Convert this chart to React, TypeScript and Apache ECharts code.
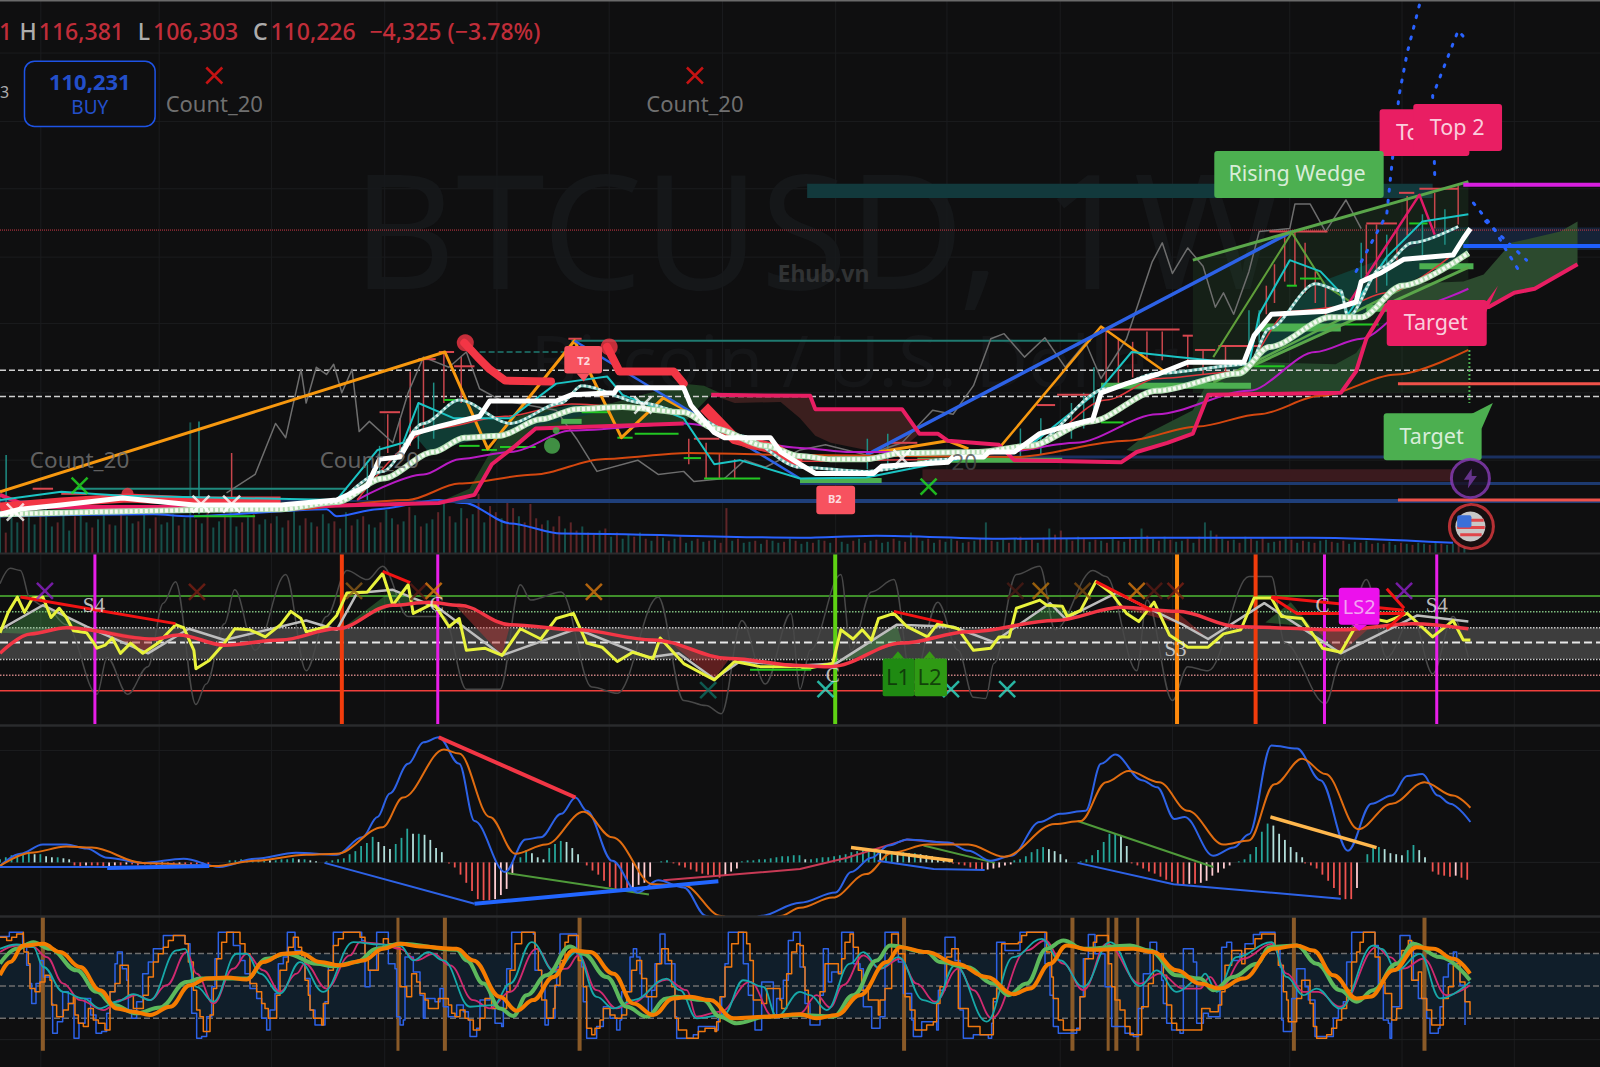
import React, { useEffect, useRef } from "react";
import * as echarts from "echarts";

type P = [number, number];

// ---------- shared ----------
const gridX = [40, 156, 266, 377, 487, 597, 708, 819, 928, 1039, 1149, 1264, 1374, 1484];
const gridYMain = [52, 119, 185, 252, 317, 385, 451];

// ---------- price pane ----------
const whiteStair: P[] = [[0,504],[20,499],[60,495],[120,488],[190,495],[275,495],[330,490],[360,476],[372,450],[392,448],[405,425],[430,418],[470,408],[480,393],[545,393],[560,387],[602,385],[605,380],[670,380],[677,397],[700,424],[710,429],[755,429],[765,443],[784,455],[799,464],[856,464],[864,457],[929,453],[934,448],[964,448],[969,443],[994,443],[1019,425],[1044,418],[1071,411],[1079,385],[1104,376],[1134,367],[1164,355],[1219,355],[1229,329],[1246,308],[1300,305],[1329,296],[1334,276],[1354,267],[1376,254],[1424,250],[1434,234],[1441,224]];
const slowMa: P[] = [[0,504],[275,499],[330,492],[375,469],[425,443],[455,429],[490,427],[530,411],[565,401],[610,399],[670,404],[700,420],[750,437],[784,447],[814,450],[849,450],[884,444],[959,443],[1009,437],[1069,413],[1134,383],[1214,366],[1244,340],[1304,311],[1334,311],[1374,280],[1439,248]];
const fastDots: P[] = [[335,490],[375,462],[415,415],[450,392],[500,415],[550,395],[570,378],[630,395],[670,404],[725,427],[784,458],[849,462],[929,450],[1009,437],[1084,381],[1134,366],[1224,357],[1244,322],[1289,278],[1314,285],[1321,311],[1354,262],[1384,238],[1429,222]];
const cyanLine: P[] = [[0,490],[60,482],[120,486],[330,490],[370,441],[395,434],[410,395],[445,410],[500,410],[545,376],[595,369],[610,387],[670,410],[700,455],[725,451],[784,469],[849,468],[929,452],[1009,437],[1079,381],[1109,345],[1154,350],[1224,357],[1234,308],[1264,255],[1294,266],[1314,287],[1321,308],[1359,252],[1394,217],[1439,210]];
const redThin: P[] = [[350,490],[425,420],[495,408],[560,396],[670,404],[740,440],[784,452],[930,450],[1009,440],[1084,392],[1134,371],[1214,364],[1264,305],[1314,301],[1359,287],[1424,249]];
const magentaMa: P[] = [[350,490],[415,465],[450,450],[500,443],[560,422],[670,415],[784,439],[834,443],[984,443],[1054,434],[1134,406],[1224,383],[1289,345],[1334,332],[1384,301],[1439,283]];
const orangeMa: P[] = [[0,505],[275,500],[400,490],[450,474],[525,465],[590,450],[675,444],[784,446],[994,448],[1104,432],[1174,418],[1234,406],[1294,388],[1369,367],[1439,343]];
const pinkBaseA: P[] = [[0,485],[30,497],[275,497],[430,493],[465,485],[482,455],[505,437],[525,420],[670,415]];
const pinkBaseB: P[] = [[697,387],[794,388],[799,401],[884,401],[901,425],[919,425],[929,432],[979,436],[994,451],[1099,453],[1114,443],[1144,434],[1169,425],[1184,387],[1314,385],[1329,364],[1339,332],[1359,299],[1459,301],[1484,287],[1504,283],[1546,259]];
const sarDotsA: P[] = [[455,336],[468,350],[480,362],[495,373],[540,374]];
const sarDotsB: P[] = [[595,340],[601,352],[607,364],[660,364],[670,376]];
const sarFlat: P[] = [[0,497],[60,492],[125,488],[190,491],[275,491]];
const sarFall: P[] = [[690,399],[720,430],[760,440],[784,455]];
const chikou: P[] = [[222,483],[250,465],[270,415],[280,429],[295,362],[300,395],[310,360],[320,367],[327,357],[335,385],[345,362],[352,423],[362,413],[385,434],[400,385],[415,350],[440,360],[457,345],[470,381],[490,392],[545,402],[565,430],[585,462],[625,451],[645,465],[670,462],[680,472],[710,469],[730,451],[750,458],[784,441],[809,436],[849,446],[884,434],[914,402],[934,406],[954,378],[971,332],[984,327],[1004,350],[1024,331],[1044,360],[1064,336],[1079,371],[1104,332],[1129,257],[1139,238],[1149,268],[1164,243],[1179,261],[1191,301],[1199,287],[1209,308],[1224,266],[1234,227],[1264,224],[1269,200],[1284,200],[1299,227],[1319,196],[1334,224]];
const volumeMa: P[] = [[0,506],[150,504],[185,506],[320,499],[330,506],[370,499],[430,490],[455,493],[500,513],[550,523],[784,527],[859,525],[984,528],[1134,527],[1284,527],[1424,532]];
const orangeTrend: P[] = [[0,482],[436,345],[478,440],[563,334],[609,429],[650,390],[672,402]];
const orangeMid: P[] = [[861,443],[929,432],[949,440]];
const orangeRise: P[] = [[981,437],[1079,320],[1144,366]];
const blueDown: P[] = [[563,334],[784,469]];
const blueUp: P[] = [[849,446],[1266,227]];
const wedgeTop: P[] = [[1169,255],[1439,178]];
const wedgeLow: P[] = [[1224,360],[1439,262]];
const wedgeLow2: P[] = [[1189,375],[1440,250]];
const oliveZig: P[] = [[1189,350],[1266,228],[1299,280],[1330,300]];
const pinkZig: P[] = [[1320,300],[1391,191],[1406,230]];
const dotA: P[] = [[1329,266],[1359,210],[1371,94],[1379,52],[1391,5]];
const dotB: P[] = [[1406,171],[1404,94],[1429,30],[1436,38]];
const dotC: P[] = [[1444,199],[1464,224],[1476,245],[1489,266]];
const dotD: P[] = [[1456,217],[1496,255]];
const cloudGreenRight: P[] = [[1329,280],[1434,276],[1454,269],[1481,238],[1529,227],[1546,217],[1546,259],[1504,283],[1484,287],[1459,301],[1400,310],[1350,300]];
const cloudGreenMid: P[] = [[1104,441],[1124,425],[1169,402],[1194,354],[1309,357],[1329,346],[1339,332],[1329,364],[1314,385],[1184,387],[1169,425],[1144,434],[1114,443]];
const cloudRed: P[] = [[697,387],[794,388],[799,401],[884,401],[901,425],[879,444],[849,441],[814,434],[799,427],[784,410],[765,394],[720,395]];
const cloudGreenLeft: P[] = [[435,490],[460,479],[480,444],[500,410],[540,400],[600,395],[670,376],[690,378],[705,385],[697,387],[670,415],[525,420],[505,437],[482,455],[465,485]];
const tealFillLeft: P[] = [[405,425],[450,392],[500,415],[560,396],[610,399],[470,430],[420,443]];
const tealFillRight: P[] = [[1084,381],[1134,366],[1224,357],[1244,322],[1289,278],[1439,222],[1439,248],[1374,280],[1334,311],[1214,366],[1134,383]];
const wedgeShade: P[] = [[1169,255],[1439,178],[1439,385],[1169,385]];
const greenSegs = [[190,250,506],[435,450,392],[450,470,437],[472,487,441],[490,525,438],[570,597,404],[605,620,429],[622,665,425],[670,687,449],[690,745,469],[1079,1101,414],[1184,1199,376],[1229,1259,359],[1261,1271,280],[1274,1294,273],[1314,1351,318],[1381,1399,219]];
const thickGreenSegs = [[1079,1226,378,6],[1391,1444,261,6],[1236,1314,321,8],[1339,1371,302,7],[784,864,471,5],[899,1041,451,5],[550,570,413,5]];
const redSegs = [[32,52,479],[60,85,484],[372,392,404],[410,427,352],[430,445,345],[445,465,359],[557,570,332],[680,705,430],[1244,1301,227],[1339,1369,219],[1371,1386,189],[1391,1429,185],[1079,1156,323],[1159,1169,329],[1036,1071,387],[1016,1034,397],[871,899,434],[1171,1191,343],[1194,1236,339]];
const redWicks = [[227,444,498],[402,364,437],[415,352,420],[435,345,395],[452,350,395],[380,406,444],[392,410,441],[675,430,455],[692,434,469],[705,445,469],[720,450,469],[1084,322,381],[1096,332,381],[1110,335,370],[1124,325,353],[1139,325,353],[1164,329,360],[1179,343,367],[1201,339,364],[1241,280,308],[1249,259,297],[1259,231,276],[1269,227,280],[1279,238,287],[1289,266,297],[1299,280,315],[1339,220,269],[1349,220,287],[1369,224,255],[1379,192,231],[1406,189,224],[1429,182,220]];
const tealWicks = [[195,413,504],[6,446,504],[372,437,465],[360,455,490],[410,395,440],[425,375,430],[1224,304,343],[1234,304,336],[1050,395,430],[1062,385,420],[1072,360,405],[1334,238,273],[1359,230,280],[1394,210,250],[1416,205,240],[850,430,460],[870,425,455],[1000,420,450],[1020,410,445]];
const volumeBars = [62,-20,45,30,-42,35,28,-38,50,26,-30,40,22,-36,48,30,-25,33,41,-28,27,-44,36,29,-31,40,24,-35,28,30,38,-27,34,128,-33,29,-40,25,31,-37,44,26,-30,35,-48,28,33,-29,36,25,-32,41,27,-34,30,-26,38,29,-31,24,40,-27,33,-36,28,25,-30,42,34,-28,31,-45,37,-26,29,33,-40,52,-36,30,44,-34,38,-58,30,-46,-40,34,-50,-44,36,-30,-48,-34,-28,32,-26,-36,24,-30,-22,26,-20,-18,22,-24,16,-20,14,18,-16,20,-14,12,-18,15,-12,14,-16,10,12,-14,11,-12,13,-10,-44,12,-14,10,11,-12,9,-13,12,10,-11,14,-12,9,11,-10,13,-12,10,-15,11,9,-12,14,-10,12,-13,10,11,-14,12,-11,20,-16,12,-14,10,-13,11,14,-12,10,-11,12,-14,30,-12,11,13,-10,14,-16,12,-13,10,-15,24,-18,-22,14,-12,16,-14,11,-13,12,-10,14,-12,11,-15,13,24,-17,14,-12,16,-13,11,12,-14,10,-16,30,22,-18,14,-12,13,-10,16,-14,12,-15,10,11,-12,14,-13,10,-12,11,-10,12,13,-11,10,-12,9,11,-10,12,-9,10,-9,11,8,-10,9,-8,10,9,-8,10,-9,8,9,-10,8];

const whiteX: P[] = [[15,502],[197,494],[227,494],[630,397],[884,449]];
const greenX: P[] = [[78,476],[910,477]];
const redTopX: P[] = [[210,74],[681,74]];

// ---------- RSI pane ----------
const rsiLines = [584, 599.5, 615, 629.5, 646, 661.5, 676.6];
const rsiYellow: P[] = [[0,620],[8,600],[17,585],[24,600],[32,586],[42,585],[50,605],[58,596],[65,605],[72,618],[85,620],[92,630],[95,635],[103,632],[110,625],[118,640],[128,630],[140,640],[155,630],[172,612],[180,615],[190,637],[192,655],[205,647],[220,630],[230,616],[245,617],[260,624],[275,612],[285,599],[295,606],[300,619],[320,614],[330,603],[340,581],[360,580],[375,562],[385,593],[400,573],[405,601],[425,591],[440,614],[450,606],[457,637],[475,635],[492,642],[510,616],[530,626],[545,606],[562,601],[575,630],[590,634],[605,648],[620,639],[640,645],[647,625],[670,650],[700,666],[720,648],[745,653],[784,653],[789,655],[816,650],[824,617],[836,626],[845,617],[854,627],[861,606],[876,601],[889,614],[909,624],[919,611],[939,616],[954,637],[971,635],[979,624],[989,624],[996,596],[1019,588],[1026,593],[1041,594],[1046,604],[1059,598],[1074,570],[1089,581],[1104,601],[1116,609],[1131,590],[1146,622],[1164,634],[1184,634],[1199,621],[1216,617],[1229,586],[1246,586],[1256,604],[1276,606],[1296,635],[1314,639],[1334,604],[1359,609],[1379,601],[1404,624],[1424,608],[1434,627],[1441,627]];
const rsiMa: P[] = [[0,640],[30,621],[65,615],[150,626],[175,622],[220,632],[275,627],[330,616],[385,593],[420,590],[450,593],[500,612],[565,617],[640,627],[715,645],[784,652],[814,653],[884,630],[949,619],[1034,608],[1099,595],[1154,599],[1214,614],[1314,617],[1384,611],[1439,616]];
const rsiSmooth: P[] = [[0,617],[42,593],[85,614],[145,640],[185,616],[220,627],[300,608],[330,617],[350,581],[385,578],[430,596],[492,642],[565,616],[635,644],[665,640],[700,665],[725,648],[784,652],[819,650],[879,612],[934,614],[974,629],[1029,591],[1044,606],[1094,581],[1159,612],[1184,626],[1239,591],[1314,640],[1389,603],[1439,609]];
const rsiGrey: P[] = [[0,572],[10,557],[20,559],[30,588],[45,595],[65,612],[95,680],[105,644],[125,680],[145,653],[160,591],[172,570],[192,690],[202,670],[220,611],[230,578],[250,637],[280,563],[300,657],[320,604],[340,559],[360,568],[375,555],[400,604],[435,604],[457,675],[490,675],[510,573],[520,588],[550,580],[580,673],[605,679],[645,585],[670,686],[692,691],[707,699],[727,608],[750,670],[775,601],[784,675],[794,637],[824,563],[834,637],[854,580],[876,568],[894,670],[919,590],[939,637],[954,683],[966,684],[974,650],[996,563],[1019,555],[1034,617],[1071,559],[1084,565],[1114,657],[1124,588],[1149,686],[1164,653],[1184,657],[1224,565],[1246,565],[1259,630],[1299,689],[1314,647],[1339,568],[1359,644],[1384,604],[1404,660],[1424,604],[1439,644]];
const rsiRedTrends: P[][] = [[[20,585],[172,611]],[[375,560],[402,571]],[[876,599],[924,610]],[[1074,570],[1129,598]],[[1246,585],[1376,598]],[[1246,585],[1271,601],[1376,601],[1359,616]],[[1359,577],[1376,596]]];
const rsiGreenFills: P[][] = [[[0,620],[42,593],[85,614],[65,615],[30,621]],[[335,616],[385,578],[420,590],[385,593]],[[819,650],[879,612],[884,630]],[[1000,612],[1029,591],[1060,604]],[[1240,610],[1265,590],[1285,614]]];
const rsiRedFills: P[][] = [[[85,614],[150,626],[145,640]],[[445,592],[500,612],[492,642]],[[1094,594],[1159,612],[1184,626],[1154,600]],[[1290,617],[1314,640],[1340,617]],[[660,632],[715,645],[700,665]]];
const rsiVerts: [number, string, number][] = [[93,"#e81ee8",3],[335,"#f23c0c",4],[429,"#e81ee8",3],[818.5,"#5fd214",4],[1153.5,"#ff8a0c",4],[1230.5,"#f23c0c",4],[1298,"#e81ee8",3],[1408,"#e81ee8",3]];
const rsiXs: [number, number, string][] = [[44,579,"#8f1fc9"],[193,580,"#7a1f14"],[347,579,"#8a5a18"],[410,580,"#5a1a14"],[425,579,"#e07a10"],[582,580,"#d8780e"],[694,676,"#0f6b60"],[809,675,"#2ee0c8"],[932,675,"#2ee0c8"],[987,675,"#2ee0c8"],[995,579,"#4a1a14"],[1020,579,"#b8720c"],[1061,579,"#7a4a10"],[1114,579,"#d8780e"],[1131,579,"#5a1a14"],[1152,579,"#7a1f14"],[1376,579,"#8f1fc9"]];

// ---------- MACD pane ----------
const macdBlue: P[] = [[0,848],[20,836],[42,827],[65,827],[85,831],[105,840],[140,845],[180,841],[215,849],[250,841],[290,835],[330,837],[355,820],[370,800],[382,777],[400,748],[415,727],[430,722],[450,748],[465,804],[495,854],[515,822],[530,820],[550,797],[564,781],[575,794],[600,843],[625,874],[645,862],[670,869],[692,897],[720,925],[745,897],[784,884],[819,874],[834,854],[854,840],[871,828],[889,822],[929,825],[949,833],[971,843],[991,838],[1019,805],[1039,797],[1064,794],[1079,748],[1093,739],[1119,764],[1134,771],[1151,802],[1161,800],[1189,838],[1209,830],[1224,817],[1246,730],[1271,733],[1294,764],[1321,833],[1344,787],[1364,779],[1379,760],[1394,758],[1409,779],[1421,787],[1441,805]];
const macdOrange: P[] = [[0,848],[30,835],[65,829],[90,830],[140,845],[210,848],[250,843],[300,837],[330,836],[375,810],[395,781],[435,734],[450,738],[480,800],[505,836],[535,827],[572,795],[600,820],[640,866],[670,867],[707,897],[735,915],[765,897],[784,889],[816,879],[849,856],[874,835],[909,827],[949,827],[984,839],[1034,807],[1059,804],[1084,766],[1106,755],[1136,766],[1164,794],[1199,827],[1224,823],[1249,768],[1276,743],[1299,758],[1331,812],[1364,787],[1396,766],[1424,779],[1441,791]];
const macdTrendsBlue: P[][] = [[[0,849],[205,849]],[[318,845],[465,885]],[[1056,845],[1150,866],[1314,880]],[[860,843],[915,851],[965,852]]];
const macdThickBlue: P[][] = [[[105,850],[205,848]],[[465,885],[704,863]]];
const macdRedTrends: P[][] = [[[430,722],[564,781]]];
const macdPinkThin: P[][] = [[[650,862],[784,851],[830,840],[889,822],[935,826]]];
const macdGreen: P[][] = [[[497,855],[636,876]],[[905,828],[975,845]],[[1056,804],[1189,849]]];
const macdAmber: P[][] = [[[834,830],[934,843]],[[1245,800],[1349,830]]];
const histChunks: [number, number[]][] = [
  [0,[3,5,7,8,9,9,8,8,6,5,5,4,3]],
  [73,[-3,-4,-3,-3,-3,-5,-4,-3,-3,-2,-2,-3]],
  [142,[-2,-2,-3,-2,-2,-3,-2,-2,-2,-2,-3,-3]],
  [225,[2,2,3,3,3,3,3,2,2,3,3,4,3,3,2,1]],
  [320,[1,2,3,4,8,11,16,19,25,20,16,13,18,24,33,28,28,27,22,14,10]],
  [440,[-1,-5,-12,-20,-28,-36,-37,-37,-36,-32,-26,-12]],
  [510,[5,12,9,5,3,14,18,21,20,14,8]],
  [575,[-3,-8,-12,-18,-24,-27,-28,-28,-25,-22,-20,-14]],
  [648,[1,2]],
  [660,[-1,-3,-5,-7,-9,-11,-12,-14,-15,-13,-9,-6]],
  [727,[1,2,2,3,3,4,5,6,6,7,7,3,3,4,5,5,6,7,8,10,11,12,12,12,11,11,11,10,10,9,9,8,7,6,5,4,3]],
  [934,[-1,-2,-3,-5,-7,-8,-7,-6,-5,-3,-2]],
  [994,[2,3,6,10,13,15,13,11,8,3]],
  [1059,[1,3,7,12,20,28,28,26,16]],
  [1109,[-1,-3,-6,-9,-11,-14,-17,-19,-21,-22,-21,-21,-20,-18,-13,-10,-6,-3]],
  [1214,[1,3,8,15,30,38,36,28,22,15,10,5]],
  [1279,[-1,-3,-6,-12,-18,-25,-32,-36,-36,-25]],
  [1340,[8,15,15,13,9,8,7,12,17,12,5]],
  [1404,[-9,-12,-13,-14,-13,-15,-17]],
];

// ---------- Stochastic pane (readings per crop: [across, down]) ----------
const CROP_X = [0, 400, 800, 1200];
const stochBandLines = [934, 966, 998];
const stochGrid = [913, 1019];
const stochVerts: [number, number][] = [[42,4],[390,3],[436,4],[568,4],[886,4],[1051,4],[1086,3],[1094,4],[1115,3],[1268,4],[1396,4]];
const orange1: P[] = [[0,165],[30,125],[70,75],[130,70],[180,95],[240,140],[300,210],[350,265],[400,275],[450,285],[510,260],[570,195],[620,175],[680,172],[740,178],[790,125],[850,100],[900,97],[960,125],[1020,135],[1090,120],[1150,85],[1200,70]];
const orange2: P[] = [[60,78],[170,85],[220,120],[300,230],[350,272],[400,240],[460,170],[520,90],[570,95],[640,160],[700,250],[760,285],[820,235],[870,230],[930,240],[1000,295],[1100,290],[1200,283]];
const orange3: P[] = [[50,295],[110,285],[180,225],[260,125],[300,80],[380,95],[470,130],[560,170],[640,222],[690,205],[750,130],[800,75],[870,88],[1000,85],[1060,95],[1130,150],[1200,190]];
const orange4: P[] = [[60,205],[130,175],[220,85],[290,75],[340,90],[400,165],[470,235],[510,230],[580,150],[650,80],[700,85],[760,115],[810,160]];
const green1: P[] = [[0,130],[50,85],[100,65],[150,85],[230,150],[290,215],[340,255],[410,280],[480,262],[560,185],[600,175],[740,175],[800,115],[860,100],[950,130],[1000,138],[1070,125],[1130,85],[1200,70]];
const green2: P[] = [[170,88],[200,120],[250,190],[300,265],[340,288],[380,225],[440,165],[510,78],[550,100],[620,170],[680,260],[740,290],[800,235],[830,230],[910,240],[960,290],[1010,310],[1100,290],[1200,285]];
const green3: P[] = [[100,290],[160,225],[230,120],[270,75],[380,95],[420,125],[500,140],[580,190],[625,225],[680,190],[740,85],[790,60],[850,85],[990,75],[1050,90],[1130,165],[1200,175]];
const green4: P[] = [[40,210],[100,170],[170,130],[210,80],[290,75],[350,130],[420,210],[470,245],[520,210],[590,130],[640,70],[720,110],[810,180]];
const pink1: P[] = [[0,95],[50,75],[100,80],[140,110],[190,190],[240,240],[310,270],[360,240],[410,225],[450,240],[500,195],[560,95],[590,160],[640,250],[700,145],[740,100],[790,150],[840,215],[890,160],[915,130],[980,205],[1050,105],[1080,65],[1140,70],[1200,85]];
const pink2: P[] = [[50,120],[100,100],[150,135],[220,240],[270,265],[330,215],[410,85],[460,150],[500,145],[535,105],[590,210],[650,265],[690,250],[800,178],[860,210],[890,290],[960,275],[1050,185],[1120,290],[1200,280]];
const pink3: P[] = [[50,225],[90,262],[130,195],[190,105],[240,145],[300,115],[350,190],[405,245],[475,145],[520,210],[575,295],[680,90],[735,60],[790,130],[850,210],[920,70],[1020,190],[1080,160],[1150,205],[1200,205]];
const pink4: P[] = [[30,170],[60,205],[130,115],[215,70],[260,160],[310,215],[355,215],[420,260],[530,80],[570,110],[610,145],[670,115],[740,225],[810,195]];
const cyan1: P[] = [[0,85],[50,72],[100,80],[130,140],[190,215],[250,235],[300,265],[350,245],[400,222],[450,240],[530,90],[555,85],[590,200],[640,245],[710,100],[740,100],[780,160],[840,220],[900,125],[970,215],[1060,65],[1140,72],[1200,75]];
const cyan2: P[] = [[40,120],[85,95],[130,120],[210,260],[280,255],[330,190],[395,65],[465,155],[530,95],[590,230],[640,265],[700,240],[800,175],[840,210],[890,295],[970,285],[1030,180],[1090,200],[1130,290],[1200,215]];
const cyan3: P[] = [[30,225],[80,270],[150,130],[190,95],[240,145],[295,110],[370,240],[405,250],[465,135],[560,305],[640,110],[725,55],[780,120],[850,200],[930,65],[1020,198],[1070,150],[1130,215],[1200,175]];
const cyan4: P[] = [[15,160],[50,215],[110,110],[215,65],[260,170],[310,225],[350,205],[420,265],[520,75],[545,85],[590,150],[660,100],[720,235],[810,185]];
const stepBlue1: P[] = [[0,48],[28,35],[55,35],[68,70],[80,135],[90,190],[95,250],[108,190],[120,120],[130,170],[155,250],[158,340],[172,305],[188,215],[205,250],[222,355],[237,310],[255,235],[272,285],[288,340],[305,335],[320,280],[330,215],[345,130],[352,95],[367,145],[380,180],[385,270],[395,295],[410,245],[428,160],[445,125],[460,85],[490,45],[540,45],[555,70],[570,125],[575,280],[590,355],[605,350],[620,290],[635,200],[645,115],[655,35],[700,75],[720,120],[735,160],[750,205],[770,235],[785,295],[800,330],[810,270],[825,220],[835,130],[850,110],[862,35],[885,90],[905,105],[915,175],[930,270],[945,315],[975,245],[985,130],[1000,35],[1085,60],[1095,200],[1110,150],[1130,35],[1165,130],[1185,145],[1190,290]];
const stepBlue2: P[] = [[0,315],[10,300],[15,110],[40,155],[60,225],[70,295],[75,235],[105,245],[120,205],[130,260],[145,290],[170,255],[190,275],[205,300],[210,350],[230,325],[240,240],[270,225],[275,265],[285,310],[305,320],[310,240],[320,145],[335,35],[400,40],[405,150],[425,200],[435,315],[445,295],[465,200],[470,140],[480,40],[530,100],[545,140],[550,245],[560,355],[590,320],[610,260],[630,295],[650,330],[660,300],[665,215],[690,110],[700,85],[710,110],[720,160],[725,230],[745,280],[755,210],[765,130],[780,40],[795,130],[825,290],[830,355],[880,345],[895,320],[945,330],[955,290],[965,230],[975,130],[985,35],[1030,130],[1045,225],[1060,290],[1065,330],[1085,185],[1120,290],[1130,235],[1150,180],[1165,60],[1180,35]];
const stepBlue3: P[] = [[0,140],[15,250],[30,315],[60,225],[70,85],[85,185],[95,155],[125,35],[160,130],[180,145],[190,260],[215,325],[240,290],[255,35],[295,125],[310,220],[335,300],[340,350],[365,305],[410,330],[415,210],[435,50],[465,120],[480,270],[490,355],[520,345],[565,355],[575,310],[580,245],[590,65],[615,90],[660,35],[735,130],[750,225],[760,320],[775,340],[830,325],[840,230],[850,115],[865,42],[885,100],[915,200],[935,320],[975,340],[1000,350],[1015,265],[1030,160],[1050,65],[1070,100],[1085,180],[1090,250],[1100,310],[1115,330],[1140,340],[1150,85],[1180,125],[1190,310]];
const stepBlue4: P[] = [[10,280],[25,290],[60,195],[65,80],[80,65],[95,120],[120,100],[135,70],[160,42],[180,35],[225,85],[240,140],[245,300],[250,335],[275,235],[290,145],[315,200],[325,240],[345,350],[400,295],[415,265],[430,245],[440,125],[455,35],[525,75],[535,195],[550,300],[565,310],[570,355],[575,260],[600,45],[630,65],[640,180],[655,235],[680,295],[690,340],[715,325],[720,260],[730,170],[745,130],[760,95],[770,125],[780,195],[795,315]];
const stepOrange1: P[] = [[0,50],[20,60],[35,50],[50,40],[70,35],[72,95],[85,130],[90,205],[105,215],[120,185],[135,165],[150,180],[155,255],[170,290],[190,270],[205,250],[220,230],[225,285],[235,310],[250,320],[265,265],[280,300],[295,310],[315,330],[330,215],[345,190],[360,135],[385,225],[400,265],[430,225],[445,170],[460,125],[475,100],[490,80],[505,60],[520,45],[555,70],[565,125],[580,210],[590,270],[600,290],[610,335],[630,285],[640,205],[650,115],[665,65],[680,35],[720,70],[735,100],[750,190],[770,215],[785,250],[795,265],[805,295],[830,225],[840,150],[860,125],[865,80],[880,50],[895,80],[905,105],[915,180],[925,225],[930,270],[940,295],[965,315],[970,250],[985,150],[1000,75],[1015,55],[1030,35],[1080,50],[1095,100],[1105,150],[1135,80],[1150,55],[1165,70],[1185,80]];
const stepOrange2: P[] = [[0,200],[20,230],[35,160],[50,185],[60,220],[75,240],[85,265],[115,235],[145,255],[155,280],[165,290],[180,270],[195,295],[205,300],[220,330],[240,295],[255,235],[275,265],[320,215],[330,150],[345,70],[365,35],[405,85],[415,150],[425,240],[440,295],[460,265],[465,195],[480,120],[495,65],[505,45],[535,120],[550,200],[560,325],[575,345],[585,325],[600,300],[610,265],[630,285],[645,295],[665,285],[680,215],[695,150],[710,120],[725,175],[740,230],[770,130],[785,85],[805,120],[815,200],[825,295],[835,330],[860,355],[895,335],[915,325],[945,335],[950,305],[960,230],[975,140],[995,70],[1015,35],[1040,70],[1050,120],[1060,240],[1085,250],[1100,205],[1140,240],[1145,265],[1160,160],[1175,95],[1190,70]];
const stepOrange3: P[] = [[0,75],[10,140],[15,210],[25,290],[60,215],[75,130],[115,160],[125,115],[135,65],[150,40],[160,80],[175,150],[185,210],[205,240],[235,285],[240,240],[255,205],[275,40],[295,100],[315,230],[330,270],[345,330],[380,315],[400,305],[410,250],[420,200],[440,110],[455,85],[475,265],[505,320],[540,345],[580,235],[590,205],[605,70],[655,65],[665,45],[680,35],[740,95],[755,170],[760,235],[775,300],[790,330],[840,230],[855,115],[880,65],[890,45],[925,130],[935,200],[945,240],[960,270],[975,320],[990,345],[1025,260],[1045,190],[1060,100],[1090,165],[1100,255],[1115,310],[1130,330]];
const stepOrange4: P[] = [[5,265],[30,275],[55,255],[65,215],[75,135],[95,90],[125,130],[135,85],[165,55],[185,40],[225,80],[235,135],[250,215],[260,240],[265,305],[290,235],[305,180],[330,250],[340,320],[350,355],[380,345],[395,325],[410,300],[425,265],[440,210],[455,125],[470,95],[480,65],[490,35],[525,110],[540,185],[555,220],[575,300],[590,265],[605,90],[625,60],[635,180],[655,155],[665,235],[680,270],[695,315],[730,235],[745,200],[760,130],[780,185],[795,245],[810,285]];

const PANES: [number, number, number, number][] = [
  [0, 553, 0, 542],
  [553, 172, 542, 710],
  [725, 191, 710, 897],
  [916, 151, 897, 1046],
];
const FONT = "'Noto Sans', 'Open Sans', sans-serif";

// crop reading -> pane units
const join = (parts: P[][]): P[] =>
  parts.flatMap((arr, i) => arr.map(([a, d]) => [(CROP_X[i] + a / 3) * 0.98, (920 + d / 3) * 0.98] as P));

function build() {
  const S: any[] = [];
  let z = 1;
  const base = (p: number) => ({ xAxisIndex: p, yAxisIndex: p, silent: true, animation: false, z: z++ });
  const ln = (p: number, pts: any[], color: string, width = 1, o: any = {}) =>
    S.push({ ...base(p), type: "line", data: pts, symbol: "none", showSymbol: false, step: o.step, smooth: o.smooth ?? false, smoothMonotone: o.smooth ? "x" : undefined,
      lineStyle: { color, width, type: o.type || "solid", opacity: o.op ?? 1, cap: o.cap || "butt", join: "round" } });
  const hl = (p: number, y: number, x1: number, x2: number, color: string, width = 1, o: any = {}) => ln(p, [[x1, y], [x2, y]], color, width, o);
  const vl = (p: number, x: number, y1: number, y2: number, color: string, width = 1, o: any = {}) => ln(p, [[x, y1], [x, y2]], color, width, o);
  const poly = (p: number, pts: P[], fill: string) =>
    S.push({ ...base(p), type: "custom", coordinateSystem: "cartesian2d", data: [pts[0]], clip: true,
      renderItem: (_: any, api: any) => ({ type: "polygon", shape: { points: pts.map((q) => api.coord(q)) }, style: { fill } }) });
  const box = (p: number, x1: number, y1: number, x2: number, y2: number, fill: string, o: any = {}) =>
    S.push({ ...base(p), type: "custom", coordinateSystem: "cartesian2d", data: [[x1, y1]], clip: true,
      renderItem: (_: any, api: any) => {
        const a = api.coord([x1, y1]); const b = api.coord([x2, y2]);
        return { type: "rect", shape: { x: a[0], y: a[1], width: b[0] - a[0], height: b[1] - a[1], r: o.r || 0 },
          style: { fill, stroke: o.stroke, lineWidth: o.lw || 0 } };
      } });
  const bars = (p: number, items: [number, number, number, string][], width: number) =>
    S.push({ ...base(p), type: "custom", coordinateSystem: "cartesian2d", data: items.map((d) => [d[0], d[1], d[2]]), clip: true,
      renderItem: (params: any, api: any) => {
        const d = items[params.dataIndex]; const a = api.coord([d[0], d[1]]); const b = api.coord([d[0], d[2]]);
        return { type: "line", shape: { x1: a[0], y1: a[1], x2: b[0], y2: b[1] }, style: { stroke: d[3], lineWidth: width } };
      } });
  const txt = (p: number, x: number, y: number, text: string, color: string, size: number, o: any = {}) =>
    S.push({ ...base(p), type: "scatter", data: [[x, y]], symbolSize: 1, itemStyle: { color: "transparent" }, clip: false,
      label: { show: true, formatter: text, position: "inside", align: o.align || "center", verticalAlign: "middle", color, fontSize: size, fontWeight: o.bold ? 700 : o.weight || 400, fontFamily: o.font || FONT } });
  const CROSS = "path://M0 0L10 10M10 0L0 10";
  const marks = (p: number, pts: P[], color: string, size: number, w = 2) =>
    S.push({ ...base(p), type: "scatter", data: pts, symbol: CROSS, symbolSize: size, clip: false, itemStyle: { color: "transparent", borderColor: color, borderWidth: w } });
  const dots = (p: number, pts: P[], color: string, size: number) =>
    S.push({ ...base(p), type: "scatter", data: pts, symbol: "circle", symbolSize: size, itemStyle: { color } });

  // gridlines
  for (const p of [0, 1, 2, 3]) {
    const [, , a, b] = PANES[p];
    gridX.forEach((x) => vl(p, x, a, b, "#1b1c1e", 1));
  }
  gridYMain.forEach((y) => hl(0, y, 0, 1568, "#1b1c1e", 1));
  hl(2, 735, 0, 1568, "#1b1c1e", 1);
  hl(2, 844.5, 0, 1568, "#1f2022", 1);
  stochGrid.forEach((y) => hl(3, y, 0, 1568, "#1f2022", 1));

  // watermark
  txt(0, 345, 222, "BTCUSD, 1W", "#17191b", 160, { align: "left" });
  txt(0, 520, 352, "Bitcoin / U.S. Dollar", "#16181a", 72, { align: "left" });
  txt(0, 807, 268, "Ehub.vn", "#3a3c3e", 23, { bold: true });

  // volume
  const volItems: [number, number, number, string][] = volumeBars.map((v, i) => [i * 5.65, 542, 542 - Math.abs(v), v > 0 ? "#164f4a" : "#5f2528"]);
  bars(0, volItems, 2);
  ln(0, volumeMa, "#2962ff", 2, { smooth: 0.3 });

  // background bands
  box(0, 791, 180, 1404, 194, "#12393c");
  box(0, 1370, 223, 1568, 245, "#162338");
  box(0, 904, 460, 1424, 472, "#3a1a1e");
  hl(0, 491, 435, 1568, "#1f3f7a", 4);
  hl(0, 474, 784, 1568, "#1d3a70", 3);
  hl(0, 448, 960, 1568, "#1a3060", 3);
  hl(0, 491, 0, 435, "#1f4fa0", 1);
  poly(0, wedgeShade, "rgba(76,175,80,0.11)");

  // clouds
  poly(0, cloudRed, "#3b1f1e");
  poly(0, cloudGreenLeft, "#1f3d22");
  poly(0, cloudGreenMid, "#24452a");
  poly(0, cloudGreenRight, "#2c4a2e");
  poly(0, tealFillLeft, "#103c34");
  poly(0, tealFillRight, "#103c34");

  // dashed horizontals
  hl(0, 225.5, 0, 1568, "#d03a45", 1, { type: "dotted" });
  hl(0, 363, 0, 1568, "#cfcfcf", 1.5, { type: "dashed" });
  hl(0, 388.5, 0, 1568, "#cfcfcf", 1.5, { type: "dashed" });
  hl(0, 479, 75, 340, "#1f8a7e", 2);
  hl(0, 334, 560, 1069, "#1f7a70", 2);
  hl(0, 345, 470, 562, "#1f7a70", 1.5, { type: "dashed" });

  // candles
  bars(0, redWicks.map((w) => [w[0], w[1], w[2], "#c8464c"]), 1.5);
  bars(0, tealWicks.map((w) => [w[0], w[1], w[2], "#1f8f85"]), 1.5);
  ln(0, chikou, "#6e6e6e", 1.5);

  // red & green markers
  redSegs.forEach((s) => hl(0, s[2], s[0], s[1], "#d9474f", 2));
  greenSegs.forEach((s) => hl(0, s[2], s[0], s[1], "#22c722", 2));
  thickGreenSegs.forEach((s) => hl(0, s[2], s[0], s[1], "#4caf50", s[3]));

  // trendlines
  ln(0, orangeTrend, "#f7980f", 3);
  ln(0, orangeMid, "#f7980f", 3);
  ln(0, orangeRise, "#f7980f", 2.5);
  ln(0, blueDown, "#2d62e6", 2.5);
  ln(0, blueUp, "#2d62e6", 3.5);
  ln(0, wedgeTop, "#5aa64a", 3);
  ln(0, wedgeLow, "#5aa64a", 3);
  ln(0, wedgeLow2, "#5aa64a", 2.5);
  ln(0, oliveZig, "#5f9e3a", 2);
  ln(0, pinkZig, "#e01a68", 2.5);
  [dotA, dotB, dotC, dotD].forEach((d) => ln(0, d, "#2962ff", 3, { type: [2, 9], cap: "round" }));
  vl(0, 1440, 343, 395, "#4caf50", 2, { type: "dotted" });
  hl(0, 181, 1434, 1568, "#d81fe0", 4);
  hl(0, 241, 1434, 1568, "#1f5fff", 4);
  hl(0, 376, 1370, 1568, "#f0524a", 3);
  hl(0, 490, 1370, 1568, "#f0524a", 3);

  // moving averages
  ln(0, orangeMa, "#d4470f", 2, { smooth: 0.3 });
  ln(0, magentaMa, "#b81bc4", 2, { smooth: 0.3 });
  ln(0, pinkBaseA, "#e81e63", 4);
  ln(0, pinkBaseB, "#e81e63", 4);
  ln(0, sarFlat, "#f23645", 9);
  ln(0, sarDotsA, "#f23645", 8, { cap: "round" });
  ln(0, sarDotsB, "#f23645", 8, { cap: "round" });
  ln(0, sarFall, "#f23645", 11);
  dots(0, [[456, 336], [597, 340]], "#f23645", 17);
  dots(0, [[125, 484]], "#f23645", 12);
  dots(0, [[541, 437]], "#4caf50", 16);
  dots(0, [[545, 422]], "#4caf50", 7);
  ln(0, redThin, "#e0393e", 1.5, { smooth: 0.3 });
  ln(0, cyanLine, "#1bc4c4", 2);
  ln(0, fastDots, "#6fb8b0", 3, { smooth: 0.3 });
  ln(0, fastDots, "#e0f2ee", 2.5, { type: "dotted", smooth: 0.3 });
  ln(0, slowMa, "#b0dcb0", 6, { smooth: 0.3 });
  ln(0, slowMa, "#f7f9f3", 4, { type: [3, 2], smooth: 0.3 });
  ln(0, whiteStair, "#ffffff", 5);

  marks(0, whiteX, "#ffffff", 17, 2.5);
  marks(0, greenX, "#22e022", 16, 2.5);
  marks(0, redTopX, "#f21414", 16, 2.5);

  // tags
  box(0, 553, 339, 590, 366, "#f7525f", { r: 3 });
  poly(0, [[565, 366], [578, 366], [572, 374]], "#f7525f");
  txt(0, 572, 353, "T2", "#ffffff", 11, { bold: true });
  box(0, 800, 476, 838, 504, "#f7525f", { r: 3 });
  txt(0, 818, 489, "B2", "#ffffff", 11, { bold: true });
  box(0, 1352, 107, 1440, 153, "#e91e63", { r: 3 });
  txt(0, 1368, 128, "To", "#ffffff", 22, { align: "left" });
  box(0, 1385, 102, 1472, 148, "#e91e63", { r: 3 });
  txt(0, 1428, 124, "Top 2", "#ffffff", 21.5);
  box(0, 1190, 148, 1356, 194, "#4caf50", { r: 3 });
  txt(0, 1271, 169, "Rising Wedge", "#ffffff", 21.5);
  poly(0, [[1440, 295], [1457, 295], [1468, 280], [1450, 320]], "#e91e63");
  box(0, 1359, 294, 1457, 339, "#e91e63", { r: 3 });
  txt(0, 1407, 315, "Target", "#ffffff", 21.5);
  poly(0, [[1430, 412], [1452, 420], [1463, 395]], "#4caf50");
  box(0, 1356, 405, 1452, 451, "#4caf50", { r: 3 });
  txt(0, 1403, 427, "Target", "#ffffff", 21.5);

  txt(0, 78, 450, "Count_20", "#777777", 22.5);
  txt(0, 362, 450, "Count_20", "#777777", 22.5);
  txt(0, 945, 452, "20", "#4a4a4a", 22.5);

  // header
  const hdr: [number, string, string][] = [[-1, "1", "#f23645"], [19, "H", "#d8d8d8"], [38, "116,381", "#f23645"], [135, "L", "#d8d8d8"], [150, "106,303", "#f23645"], [248, "C", "#d8d8d8"], [265, "110,226", "#f23645"], [362, "−4,325 (−3.78%)", "#f23645"]];
  hdr.forEach((h) => txt(0, h[0], 30, h[1], h[2], 23, { align: "left", weight: 500 }));
  txt(0, 0, 90, "3", "#d8d8d8", 16, { align: "left" });
  box(0, 24, 60, 152, 124, "#0f0f10", { r: 10, stroke: "#1e53e5", lw: 1.5 });
  txt(0, 88, 79, "110,231", "#2962ff", 22, { bold: true });
  txt(0, 88, 105, "BUY", "#2962ff", 19);
  txt(0, 210, 101, "Count_20", "#8a8a8a", 22);
  txt(0, 681, 101, "Count_20", "#8a8a8a", 22);

  // icons
  S.push({ ...base(0), type: "scatter", data: [[1441, 469]], symbol: "circle", symbolSize: 38, itemStyle: { color: "#1a1022", borderColor: "#8a3cb8", borderWidth: 3 } });
  S.push({ ...base(0), type: "scatter", data: [[1441, 469]], symbol: "path://M6 0L0 9H4L3 16L10 6H6Z", symbolSize: [13, 20], itemStyle: { color: "#7a3ca8" } });
  S.push({ ...base(0), type: "scatter", data: [[1442, 516]], symbol: "circle", symbolSize: 44, itemStyle: { color: "#1a0f10", borderColor: "#e0393e", borderWidth: 3 } });
  S.push({ ...base(0), type: "scatter", data: [[1441, 516]], symbol: "circle", symbolSize: 30, itemStyle: { color: "#f5f5f5" } });
  hl(0, 510, 1432, 1454, "#e0454a", 3);
  hl(0, 517, 1428, 1455, "#e0454a", 3);
  hl(0, 524, 1431, 1452, "#e0454a", 3);
  box(0, 1428, 505, 1442, 517, "#3b6fd8", { r: 2 });

  // ---- RSI ----
  box(1, 0, 615, 1568, 645.5, "#3d3d3d");
  hl(1, rsiLines[0], 0, 1568, "#3f8f2a", 2);
  hl(1, rsiLines[1], 0, 1568, "#7fbf7f", 1.5, { type: "dotted" });
  hl(1, rsiLines[2], 0, 1568, "#c8c8c8", 1.5, { type: "dotted" });
  hl(1, rsiLines[3], 0, 1568, "#e8e8e8", 2, { type: "dashed" });
  hl(1, rsiLines[4], 0, 1568, "#c8c8c8", 1.5, { type: "dotted" });
  hl(1, rsiLines[5], 0, 1568, "#c88080", 1.5, { type: "dotted" });
  hl(1, rsiLines[6], 0, 1568, "#f0403c", 1.5);
  ln(1, rsiGrey, "#484848", 1.5, { smooth: 0.35 });
  rsiGreenFills.forEach((f) => poly(1, f, "rgba(76,175,80,0.35)"));
  rsiRedFills.forEach((f) => poly(1, f, "rgba(190,50,50,0.45)"));
  rsiVerts.forEach((v) => vl(1, v[0], 542, 709, v[1], v[2]));
  ln(1, rsiSmooth, "#bdbdbd", 2.5);
  ln(1, rsiYellow, "#e8f23c", 3);
  ln(1, rsiMa, "#f23645", 3.5, { smooth: 0.35 });
  rsiRedTrends.forEach((t) => ln(1, t, "#f21414", 3));
  hl(1, 656, 735, 795, "#22c722", 2);
  rsiXs.forEach((m) => marks(1, [[m[0], m[1]]], m[2], 16, 2.5));
  box(1, 865, 645, 896, 682, "#1f8a12", { r: 2 });
  box(1, 896, 645, 928, 682, "#2f9a14", { r: 2 });
  poly(1, [[874, 645], [886, 645], [880, 638]], "#2f9a14");
  poly(1, [[905, 645], [917, 645], [911, 638]], "#3a9a14");
  txt(1, 880, 662, "L1", "#0b2a08", 22);
  txt(1, 911, 662, "L2", "#0b2a08", 22);
  box(1, 1312, 576, 1352, 612, "#ec11ec", { r: 3 });
  poly(1, [[1325, 612], [1340, 612], [1332, 618]], "#ec11ec");
  txt(1, 1332, 594, "LS2", "#f5c8f5", 20);
  const serif = "'Liberation Serif', serif";
  txt(1, 92, 593, "S4", "#e8e8e8", 21, { font: serif });
  txt(1, 1408, 593, "S4", "#e8e8e8", 21, { font: serif });
  txt(1, 1152, 636, "S3", "#e8e8e8", 21, { font: serif });
  txt(1, 816, 661, "C", "#e8e8e8", 21, { font: serif });
  txt(1, 1296, 593, "C", "#e8e8e8", 21, { font: serif });
  txt(1, 428, 592, "C", "#e8e8e8", 21, { font: serif });

  // ---- MACD ----
  const histItems: [number, number, number, string][] = [];
  histChunks.forEach(([x0, vals]) => vals.forEach((v, i) => {
    const prev = i ? vals[i - 1] : 0;
    const col = v >= 0 ? (Math.abs(v) >= Math.abs(prev) ? "#26a69a" : "#b2dfdb") : (Math.abs(v) >= Math.abs(prev) ? "#ef5350" : "#ffcdd2");
    histItems.push([x0 + i * 5.65, 844.5, 844.5 - v, col]);
  }));
  bars(2, histItems, 1.8);
  macdGreen.forEach((t) => ln(2, t, "#4f9a3a", 2));
  macdPinkThin.forEach((t) => ln(2, t, "#c83a55", 2));
  ln(2, macdBlue, "#2d62e6", 2, { smooth: 0.35 });
  ln(2, macdOrange, "#e06c10", 2, { smooth: 0.35 });
  macdTrendsBlue.forEach((t) => ln(2, t, "#2d62e6", 2));
  macdThickBlue.forEach((t) => ln(2, t, "#2266ff", 4));
  macdRedTrends.forEach((t) => ln(2, t, "#f23645", 4));
  macdAmber.forEach((t) => ln(2, t, "#ffb74d", 3.5));

  // ---- Stoch ----
  box(3, 0, 934, 1568, 997.5, "#101e2a");
  stochBandLines.forEach((y) => hl(3, y, 0, 1568, "#6e6e6e", 1.5, { type: "dashed" }));
  stochVerts.forEach((v) => vl(3, v[0], 898, 1030, "#8a5a28", v[1]));
  ln(3, join([stepBlue1, stepBlue2, stepBlue3, stepBlue4]), "#2d62e6", 1.5, { step: "end" });
  ln(3, join([stepOrange1, stepOrange2, stepOrange3, stepOrange4]), "#f0780f", 1.5, { step: "end" });
  ln(3, join([pink1, pink2, pink3, pink4]), "#d02a70", 1.8, { smooth: 0.4 });
  ln(3, join([cyan1, cyan2, cyan3, cyan4]), "#17a8a8", 1.8, { smooth: 0.4 });
  ln(3, join([green1, green2, green3, green4]), "#5cb85c", 4, { smooth: 0.4 });
  ln(3, join([orange1, orange2, orange3, orange4]), "#f57c00", 4, { smooth: 0.4 });

  // separators and top border
  box(0, 0, 0, 1568, 1.5, "#6a6a6a");
  hl(1, 542.5, 0, 1568, "#2a2b2d", 2);
  hl(2, 710.5, 0, 1568, "#2a2b2d", 2.5);
  hl(3, 897.5, 0, 1568, "#2a2b2d", 2.5);
  return S;
}

export default function App() {
  const ref = useRef<HTMLDivElement>(null);
  useEffect(() => {
    document.body.style.margin = "0";
    document.body.style.background = "#0f0f10";
    const chart = echarts.init(ref.current!, undefined, { renderer: "svg" });
    chart.setOption({
      animation: false,
      backgroundColor: "#0f0f10",
      grid: PANES.map(([top, height]) => ({ left: 0, right: 0, top, height, containLabel: false })),
      xAxis: PANES.map((_, i) => ({ type: "value", gridIndex: i, min: 0, max: 1568, show: false })),
      yAxis: PANES.map((p, i) => ({ type: "value", gridIndex: i, min: p[2], max: p[3], inverse: true, show: false })),
      series: build(),
    });
    return () => chart.dispose();
  }, []);
  return <div ref={ref} style={{ position: "absolute", left: 0, top: 0, width: 1600, height: 1067 }} />;
}
